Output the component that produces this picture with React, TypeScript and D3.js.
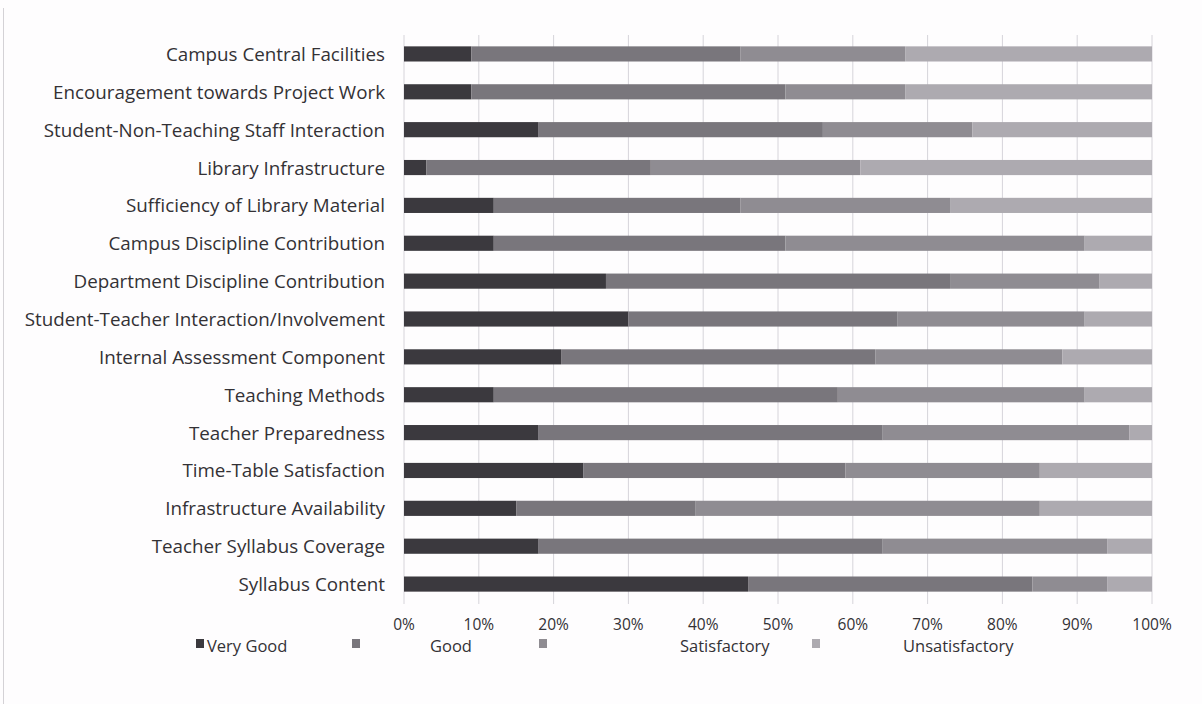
import * as d3 from 'd3';

const categories = [
  'Campus Central Facilities',
  'Encouragement towards Project Work',
  'Student-Non-Teaching Staff Interaction',
  'Library Infrastructure',
  'Sufficiency of Library Material',
  'Campus Discipline Contribution',
  'Department Discipline Contribution',
  'Student-Teacher Interaction/Involvement',
  'Internal Assessment Component',
  'Teaching Methods',
  'Teacher Preparedness',
  'Time-Table Satisfaction',
  'Infrastructure Availability',
  'Teacher Syllabus Coverage',
  'Syllabus Content',
];

const veryGood = [9, 9, 18, 3, 12, 12, 27, 30, 21, 12, 18, 24, 15, 18, 46];
const good = [36, 42, 38, 30, 33, 39, 46, 36, 42, 46, 46, 35, 24, 46, 38];
const satisfactory = [22, 16, 20, 28, 28, 40, 20, 25, 25, 33, 33, 26, 46, 30, 10];
const unsatisfactory = [33, 33, 24, 39, 27, 9, 7, 9, 12, 9, 3, 15, 15, 6, 6];

const seriesNames = ['Very Good', 'Good', 'Satisfactory', 'Unsatisfactory'];
const seriesColors = ['#3b393e', '#79767c', '#8f8c92', '#adaab0'];
const tickValues = [0, 10, 20, 30, 40, 50, 60, 70, 80, 90, 100];

const W = 1202;
const H = 704;
const FONT = '"Open Sans", sans-serif';

export default function App() {
  const rows = categories.map((c, i) => ({
    cat: c,
    'Very Good': veryGood[i],
    Good: good[i],
    Satisfactory: satisfactory[i],
    Unsatisfactory: unsatisfactory[i],
  }));

  const stack = d3.stack<any>().keys(seriesNames);
  const layers = stack(rows);

  const x = d3.scaleLinear().domain([0, 100]).range([404, 1152]);
  const y = d3.scaleBand().domain(categories).range([35, 603]).paddingInner(0.6).paddingOuter(0.3);

  // legend positions (swatch x, label x)
  const legend = [
    { sx: 196, tx: 207 },
    { sx: 352, tx: 430 },
    { sx: 539, tx: 680 },
    { sx: 812, tx: 903 },
  ];

  return (
    <div style={{ position: 'fixed', left: 0, top: 0 }}>
      <svg width={W} height={H} style={{ display: 'block', background: '#fefdfe' }}>
        <line x1={3.5} x2={3.5} y1={8} y2={H} stroke="#d4d2d6" strokeWidth={1} />

        {/* gridlines */}
        {tickValues.map((t) => (
          <line key={t} x1={x(t)} x2={x(t)} y1={35} y2={604} stroke="#d6d4da" strokeWidth={1} />
        ))}

        {/* bars */}
        {layers.map((layer, li) => (
          <g key={layer.key} fill={seriesColors[li]}>
            {layer.map((d, i) => (
              <rect
                key={i}
                x={x(d[0])}
                y={y(categories[i])}
                width={Math.max(0, x(d[1]) - x(d[0]))}
                height={y.bandwidth()}
              />
            ))}
          </g>
        ))}

        {/* category labels */}
        {categories.map((c) => (
          <text
            key={c}
            x={385}
            y={(y(c) ?? 0) + y.bandwidth() / 2}
            textAnchor="end"
            dominantBaseline="central"
            fontFamily={FONT}
            fontSize={18.8}
            fill="#333135"
          >
            {c}
          </text>
        ))}

        {/* tick labels */}
        {tickValues.map((t) => (
          <text
            key={t}
            x={x(t)}
            y={624}
            textAnchor="middle"
            dominantBaseline="central"
            fontFamily={FONT}
            fontSize={15.5}
            fill="#333135"
          >
            {t}%
          </text>
        ))}

        {/* legend */}
        {seriesNames.map((s, i) => (
          <g key={s}>
            <rect x={legend[i].sx} y={639} width={8} height={9} fill={seriesColors[i]} />
            <text
              x={legend[i].tx}
              y={645}
              dominantBaseline="central"
              fontFamily={FONT}
              fontSize={16.5}
              fill="#333135"
            >
              {s}
            </text>
          </g>
        ))}
      </svg>
    </div>
  );
}
